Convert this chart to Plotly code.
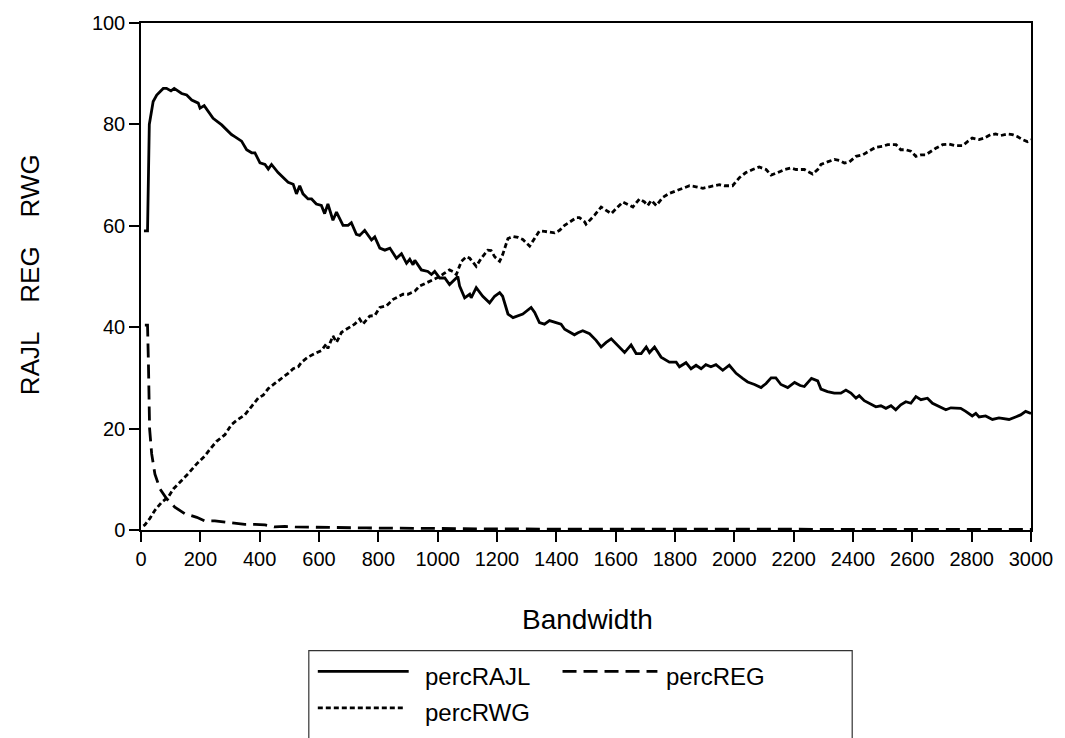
import plotly.graph_objects as go

# ---- data ----
rajl_x = [10, 22, 28, 41, 53, 75, 86, 101, 112, 137, 154, 171, 193, 199, 213, 227, 243, 272, 294, 305,
          316, 339, 356, 373, 384, 401, 418, 429, 440, 462, 496, 513, 524, 535, 546, 563, 575, 591, 608, 619,
          630, 647, 659, 681, 698, 709, 726, 737, 754, 777, 788, 805, 822, 839, 861, 878, 895, 906, 917, 923,
          945, 967, 979, 990, 1007, 1024, 1040, 1057, 1068, 1074, 1091, 1108, 1113, 1130, 1152, 1175, 1192, 1209, 1219, 1237,
          1254, 1287, 1304, 1315, 1327, 1343, 1360, 1377, 1399, 1416, 1428, 1444, 1461, 1473, 1489, 1512, 1534, 1551, 1568, 1585,
          1607, 1630, 1652, 1669, 1686, 1703, 1714, 1731, 1753, 1781, 1804, 1815, 1837, 1854, 1871, 1888, 1904, 1921, 1938, 1961,
          1983, 2006, 2028, 2045, 2068, 2090, 2107, 2124, 2140, 2157, 2180, 2203, 2222, 2236, 2260, 2281, 2292, 2314, 2337, 2359,
          2376, 2393, 2410, 2421, 2438, 2460, 2477, 2494, 2511, 2528, 2544, 2561, 2578, 2595, 2612, 2629, 2651, 2668, 2690, 2713,
          2730, 2763, 2780, 2802, 2814, 2825, 2847, 2870, 2892, 2926, 2948, 2965, 2982, 3000]
rajl_y = [59.0, 59.0, 80.0, 84.5, 85.8, 87.1, 87.1, 86.6, 87.1, 86.1, 85.8, 84.8, 84.2, 83.2, 83.7, 82.5, 81.2, 79.9, 78.6, 78.0,
          77.6, 76.7, 75.0, 74.4, 74.4, 72.4, 72.1, 71.2, 72.1, 70.5, 68.6, 68.2, 66.3, 67.9, 66.3, 65.3, 65.3, 64.3, 64.0, 62.4,
          64.3, 61.1, 62.7, 60.1, 60.1, 60.6, 58.3, 58.1, 59.1, 57.2, 57.8, 55.6, 55.2, 55.6, 53.6, 54.5, 52.6, 53.4, 52.3, 53.2,
          51.3, 51.0, 50.4, 51.0, 49.7, 49.7, 48.4, 49.4, 50.0, 48.1, 45.8, 46.5, 45.8, 47.8, 46.1, 44.8, 46.1, 46.8, 46.1, 42.6,
          41.9, 42.6, 43.5, 43.9, 42.9, 40.9, 40.6, 41.3, 40.9, 40.6, 39.6, 39.0, 38.5, 38.9, 39.3, 38.7, 37.4, 36.1, 37.0, 37.7,
          36.4, 35.0, 36.5, 34.8, 34.8, 36.1, 35.0, 36.1, 34.1, 33.1, 33.1, 32.2, 33.0, 31.8, 32.5, 31.8, 32.6, 32.2, 32.6, 31.5,
          32.5, 30.9, 29.9, 29.2, 28.7, 28.1, 28.9, 30.0, 30.0, 28.7, 28.1, 29.1, 28.5, 28.3, 29.9, 29.4, 27.8, 27.3, 27.0, 27.0,
          27.6, 27.0, 26.0, 26.5, 25.5, 24.8, 24.3, 24.5, 24.0, 24.5, 23.7, 24.7, 25.3, 25.0, 26.3, 25.7, 26.0, 25.0, 24.4, 23.7,
          24.1, 24.0, 23.4, 22.5, 23.0, 22.3, 22.5, 21.8, 22.1, 21.8, 22.3, 22.7, 23.4, 23.0]

reg_x = [13, 22, 25, 27, 29, 36, 47, 64, 86, 114, 148, 188, 215, 249, 283, 316, 350, 384, 418, 451,
         485, 519, 560, 650, 760, 870, 1000, 1200, 1500, 2000, 2500, 3000]
reg_y = [40.4, 40.4, 33.0, 26.0, 20.0, 15.0, 11.0, 8.1, 6.2, 4.5, 3.2, 2.5, 1.8, 1.8, 1.6, 1.3, 1.1, 1.1, 1.0, 0.6,
         0.7, 0.6, 0.6, 0.5, 0.4, 0.3, 0.3, 0.2, 0.2, 0.15, 0.1, 0.1]

rwg_x = [8, 13, 30, 47, 70, 92, 109, 131, 159, 187, 215, 232, 255, 283, 305, 322, 350, 373, 395, 412,
         429, 451, 474, 496, 513, 530, 541, 563, 586, 608, 625, 630, 647, 659, 676, 703, 720, 737, 748, 771,
         788, 805, 827, 850, 867, 883, 900, 923, 939, 962, 973, 990, 1007, 1024, 1040, 1051, 1063, 1080, 1097, 1108,
         1130, 1147, 1169, 1180, 1192, 1209, 1219, 1237, 1254, 1271, 1287, 1310, 1327, 1343, 1360, 1377, 1394, 1411, 1428, 1444,
         1467, 1478, 1495, 1500, 1529, 1551, 1568, 1585, 1607, 1624, 1641, 1658, 1680, 1697, 1708, 1720, 1737, 1759, 1781, 1804,
         1826, 1849, 1871, 1894, 1916, 1933, 1950, 1966, 1994, 2017, 2039, 2062, 2084, 2107, 2124, 2146, 2169, 2191, 2208, 2236,
         2253, 2264, 2281, 2292, 2314, 2337, 2354, 2371, 2388, 2410, 2433, 2455, 2477, 2500, 2517, 2545, 2561, 2578, 2595, 2612,
         2629, 2645, 2662, 2679, 2702, 2724, 2746, 2769, 2786, 2802, 2825, 2842, 2864, 2881, 2898, 2920, 2937, 2954, 2971, 2988, 3000]
rwg_y = [0.8, 1.0, 2.3, 3.9, 5.5, 6.5, 8.1, 9.4, 11.1, 13.0, 14.6, 15.9, 17.5, 18.8, 20.8, 21.6, 22.7, 24.4, 26.0, 26.6,
         27.9, 28.9, 29.9, 30.9, 31.8, 32.2, 33.1, 34.1, 34.8, 35.4, 36.7, 35.8, 38.3, 37.0, 39.0, 40.0, 40.6, 41.6, 40.6, 42.2,
         42.3, 43.9, 44.2, 45.5, 46.1, 46.5, 46.5, 47.1, 48.1, 48.7, 49.1, 49.4, 50.0, 50.7, 51.3, 51.0, 50.4, 53.0, 53.9, 53.6,
         52.0, 53.6, 55.2, 55.1, 53.9, 53.0, 54.3, 57.5, 57.9, 57.7, 57.3, 56.0, 57.5, 59.0, 58.9, 58.8, 58.6, 59.1, 60.1, 60.7,
         61.6, 61.6, 60.8, 60.3, 62.1, 63.7, 63.0, 62.4, 63.7, 64.7, 64.2, 63.7, 65.3, 64.7, 64.0, 65.0, 64.0, 65.6, 66.4, 66.9,
         67.4, 67.9, 67.7, 67.4, 67.7, 67.9, 68.1, 67.9, 67.9, 69.5, 70.5, 71.1, 71.6, 71.1, 70.0, 70.5, 71.1, 71.4, 71.1, 71.1,
         70.5, 70.2, 71.1, 72.1, 72.6, 73.1, 72.9, 72.4, 72.6, 73.7, 74.0, 74.8, 75.5, 75.7, 76.0, 76.0, 75.0, 75.0, 74.7, 73.7,
         74.0, 74.0, 74.7, 75.3, 76.0, 76.1, 75.8, 75.8, 76.6, 77.3, 77.0, 77.3, 78.0, 78.1, 77.8, 78.1, 78.0, 77.6, 77.0, 76.6, 77.0]

series_names = ["percRAJL", "percREG", "percRWG"]
x_ticks = [0, 200, 400, 600, 800, 1000, 1200, 1400, 1600, 1800, 2000, 2200, 2400, 2600, 2800, 3000]
y_ticks = [0, 20, 40, 60, 80, 100]

FONT = "Liberation Sans, Arial, sans-serif"
W, H = 1065, 738
L, R, T, B = 141, 33, 17, 208
PW, PH = W - L - R, H - T - B

def px_x(p):
    return (p - L) / PW

def px_y(p):
    return (H - B - p) / PH

dash_reg = "14px,7px"
dash_rwg = "5px,3px"
LW = 2.8

fig = go.Figure()
fig.add_trace(go.Scatter(x=rajl_x, y=rajl_y, mode="lines", name=series_names[0],
                         line=dict(color="black", width=LW), showlegend=False))
fig.add_trace(go.Scatter(x=reg_x, y=reg_y, mode="lines", name=series_names[1],
                         line=dict(color="black", width=LW, dash=dash_reg), showlegend=False))
fig.add_trace(go.Scatter(x=rwg_x, y=rwg_y, mode="lines", name=series_names[2],
                         line=dict(color="black", width=LW, dash=dash_rwg), showlegend=False))

axis_common = dict(showline=True, linecolor="black", linewidth=1.5, mirror=True,
                   ticks="outside", ticklen=10, tickwidth=1.5, tickcolor="black",
                   showgrid=False, zeroline=False,
                   tickfont=dict(family=FONT, size=20, color="black"))

fig.update_xaxes(range=[0, 3000], tickvals=x_ticks, ticktext=[str(v) for v in x_ticks], **axis_common)
fig.update_yaxes(range=[0, 100], tickvals=y_ticks, ticktext=[str(v) for v in y_ticks], **axis_common)

shapes = []
annotations = []
# axis titles
annotations.append(dict(x=px_x(588), y=px_y(621), xref="paper", yref="paper", text="Bandwidth",
                        showarrow=False, xanchor="center", yanchor="middle",
                        font=dict(family=FONT, size=28, color="black")))
annotations.append(dict(x=px_x(30), y=px_y(272), xref="paper", yref="paper",
                        text="RAJL" + "\u00a0" * 4 + "REG" + "\u00a0" * 4 + "RWG",
                        showarrow=False, xanchor="center", yanchor="middle", textangle=-90,
                        font=dict(family=FONT, size=26, color="black")))
# legend box
shapes.append(dict(type="rect", xref="paper", yref="paper", x0=px_x(309), x1=px_x(853),
                   y0=px_y(652), y1=px_y(790), line=dict(color="#333333", width=1.2)))
legend_rows = [
    (series_names[0], "solid", 318, 409, 423, 673),
    (series_names[1], dash_reg, 563, 658, 665, 673),
    (series_names[2], dash_rwg, 318, 405, 423, 710),
]
for name, dash, lx0, lx1, tx, ly in legend_rows:
    shapes.append(dict(type="line", xref="paper", yref="paper", x0=px_x(lx0), x1=px_x(lx1),
                       y0=px_y(ly), y1=px_y(ly), line=dict(color="black", width=LW, dash=dash)))
    annotations.append(dict(x=px_x(tx), y=px_y(ly + 5), xref="paper", yref="paper", text=name,
                            showarrow=False, xanchor="left", yanchor="middle",
                            font=dict(family=FONT, size=24, color="black")))

fig.update_layout(width=W, height=H, margin=dict(l=L, r=R, t=T, b=B, pad=0),
                  paper_bgcolor="white", plot_bgcolor="white",
                  shapes=shapes, annotations=annotations, showlegend=False)

fig.write_html("out.html")
